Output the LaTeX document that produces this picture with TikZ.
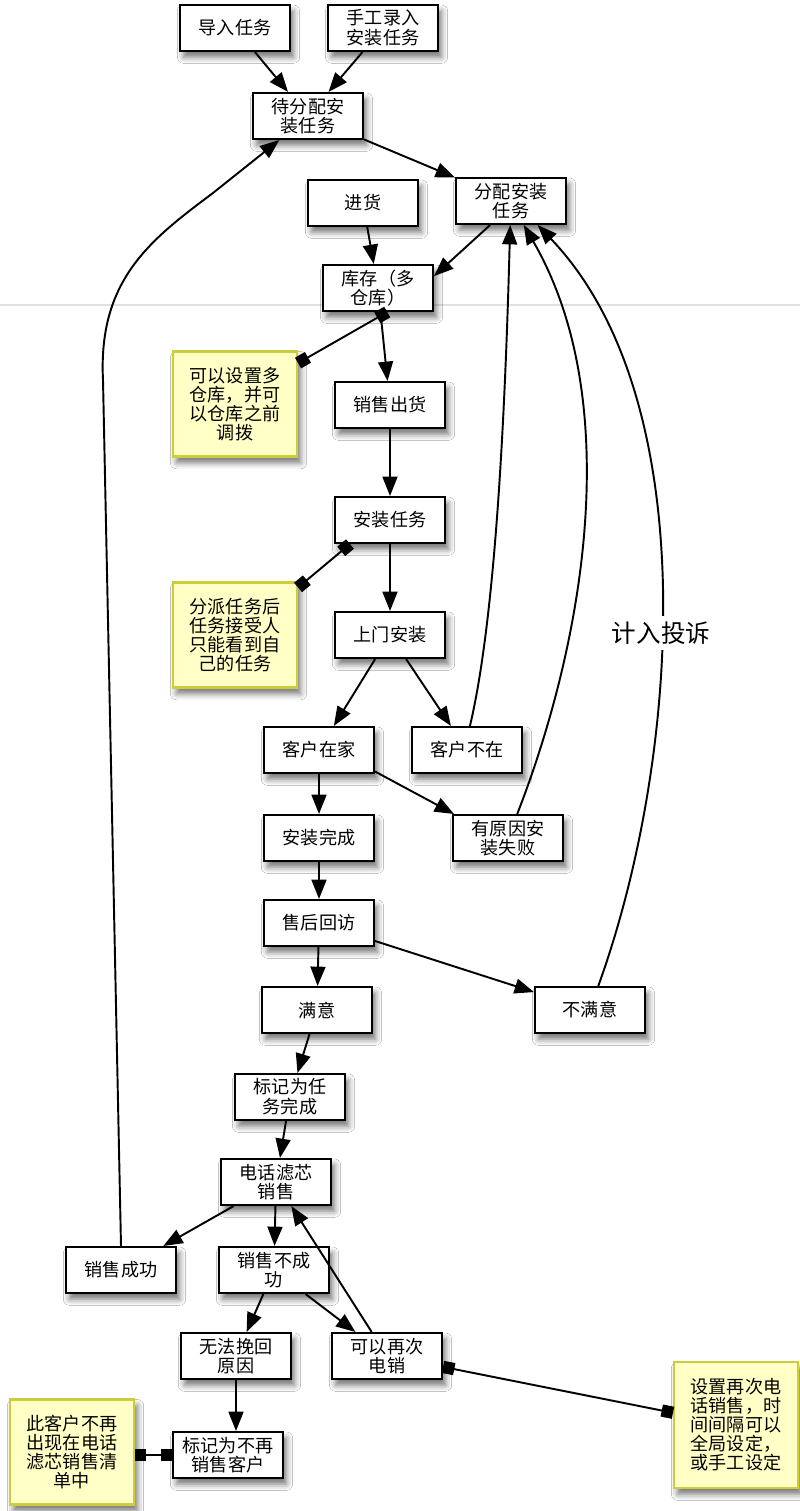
\documentclass[tikz,border=0pt]{standalone}
\usepackage{fontspec}
\setmainfont{Noto Sans CJK SC}
\usepackage{tikz}
\usetikzlibrary{arrows.meta,shadows.blur}
\definecolor{notefill}{RGB}{255,255,198}
\definecolor{noteline}{RGB}{204,204,60}

\begin{document}
\begin{tikzpicture}[x=0.02cm,y=-0.02cm,
    box/.style={draw,line width=1.2pt,fill=white,minimum width=2.2cm,minimum height=0.92cm,
      inner sep=1pt,align=center,font=\fontsize{10.3}{11.2}\selectfont,
      blur shadow={shadow xshift=2pt,shadow yshift=-3.5pt,shadow blur radius=3.5pt,shadow opacity=55}},
    note/.style={box,draw=noteline,fill=notefill,minimum width=2.48cm,minimum height=2.1cm,
      font=\fontsize{10.3}{10.8}\selectfont},
    flow/.style={line width=1.1pt,-{Triangle[length=11pt,width=8.5pt]}},
    link/.style={line width=1.1pt,{Square[length=6.5pt,width=7pt]}-{Square[length=6.5pt,width=7pt]}}]
       \useasboundingbox[fill=white] (0,0) rectangle (800,1511);
       \draw[black!12,line width=0.8pt] (0,305) -- (800,305);

       %kutije
       \node[box] (imp) at (235,28) {导入任务};
       \node[box] (man) at (383,28) {手工录入\\安装任务};
       \node[box] (pend) at (308,116) {待分配安\\装任务};
       \node[box] (buy) at (363,203) {进货};
       \node[box] (assign) at (511,201) {分配安装\\任务};
       \node[box] (stock) at (378,288) {库存（多\\仓库）};
       \node[box] (sell) at (390,405) {销售出货};
       \node[box] (task) at (390,520) {安装任务};
       \node[box] (visit) at (390,635) {上门安装};
       \node[box] (home) at (319,750) {客户在家};
       \node[box] (away) at (467,750) {客户不在};
       \node[box] (done) at (319,838) {安装完成};
       \node[box] (fail) at (508,838) {有原因安\\装失败};
       \node[box] (review) at (319,923) {售后回访};
       \node[box] (sat) at (317,1010) {满意};
       \node[box] (unsat) at (590,1010) {不满意};
       \node[box] (mark) at (290,1097) {标记为任\\务完成};
       \node[box] (phone) at (276,1182) {电话滤芯\\销售};
       \node[box] (succ) at (121,1270) {销售成功};
       \node[box] (nosucc) at (274,1270) {销售不成\\功};
       \node[box] (lost) at (236,1356) {无法挽回\\原因};
       \node[box] (again) at (387,1356) {可以再次\\电销};
       \node[box] (stop) at (228,1455) {标记为不再\\销售客户};

       %napomene
       \node[note] (n1) at (235,404) {可以设置多\\仓库，并可\\以仓库之前\\调拨};
       \node[note] (n2) at (235,635) {分派任务后\\任务接受人\\只能看到自\\己的任务};
       \node[note] (n3) at (72,1452) {此客户不再\\出现在电话\\滤芯销售清\\单中};
       \node[note,minimum height=2.52cm] (n4) at (736,1425) {设置再次电\\话销售，时\\间间隔可以\\全局设定，\\或手工设定};

       %strelice
       \draw[flow] (imp) -- (pend);
       \draw[flow] (man) -- (pend);
       \draw[flow] (pend) -- (assign);
       \draw[flow] (assign.229) -- (stock.12);
       \draw[flow] (buy) -- (stock);
       \draw[flow] (stock) -- (sell);
       \draw[flow] (sell) -- (task);
       \draw[flow] (task) -- (visit);
       \draw[flow] (visit) -- (home);
       \draw[flow] (visit) -- (away);
       \draw[flow] (home) -- (done);
       \draw[flow] (home.339) -- (fail.156);
       \draw[flow] (done) -- (review);
       \draw[flow] (review) -- (sat);
       \draw[flow] (review) -- (unsat);
       \draw[flow] (sat) -- (mark);
       \draw[flow] (mark) -- (phone);
       \draw[flow] (phone) -- (succ);
       \draw[flow] (phone) -- (nosucc);
       \draw[flow] (nosucc) -- (lost);
       \draw[flow] (nosucc) -- (again);
       \draw[flow] (again) -- (phone);
       \draw[flow] (lost) -- (lost |- stop.north);

       %natrag na dodjelu
       \draw[flow] (away.83) .. controls (495,620) and (505,420) .. (assign.268);
       \draw[flow] (fail.69) .. controls (585,640) and (625,400) .. (assign.298);
       \draw[flow] (unsat.71) .. controls (680,760) and (705,400) .. (assign.318);
       \node[font=\fontsize{14}{16}\selectfont,fill=white,inner sep=3pt] (cmp) at (661,633) {计入投诉};
       \draw[flow] (succ.north) -- (103,380) .. controls (98,280) and (150,240) .. (213,193) -- (pend.220);

       %veze napomena
       \draw[link] (stock.291) -- (n1.33);
       \draw[link] (task.211) -- (n2.37);
       \draw[link] (stop.west) -- (n3.east |- stop.west);
       \draw[link] (again.349) -- (n4.169);
\end{tikzpicture}
\end{document}
